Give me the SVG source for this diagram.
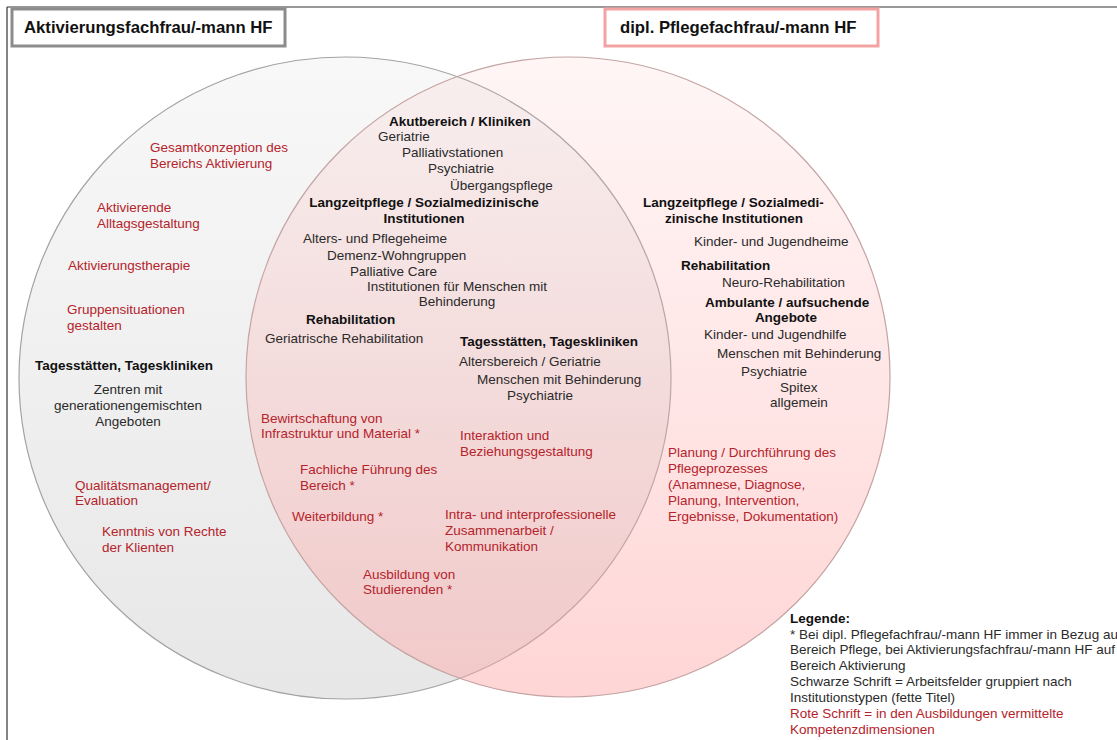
<svg xmlns="http://www.w3.org/2000/svg" width="1117" height="740" viewBox="0 0 1117 740">
  <defs>
    <linearGradient id="gradGray" x1="0" y1="0" x2="0" y2="1">
      <stop offset="0" stop-color="#f8f8f8"/>
      <stop offset="1" stop-color="#e7e7e7"/>
    </linearGradient>
    <linearGradient id="gradPink" x1="0" y1="0" x2="0" y2="1">
      <stop offset="0" stop-color="#ffb0b0" stop-opacity="0.12"/>
      <stop offset="1" stop-color="#ffa4a4" stop-opacity="0.46"/>
    </linearGradient>
    <style>
      text { font-family: "Liberation Sans", Arial, sans-serif; font-size: 13.5px; fill: #2a2a2a; }
      .b { font-weight: bold; fill: #111; }
      .r { fill: #b5232b; }
      .c { text-anchor: middle; }
      .title { font-size: 16.7px; font-weight: bold; fill: #111; }
    </style>
  </defs>

  <rect x="0" y="0" width="1117" height="740" fill="#ffffff"/>

  <!-- page frame -->
  <g id="frame" stroke="#333" stroke-width="1.2" fill="none">
    <line x1="7" y1="7" x2="1117" y2="7"/>
    <line x1="7" y1="7" x2="7" y2="740"/>
  </g>

  <!-- the two overlapping sets -->
  <g id="set-aktivierung">
    <ellipse cx="345" cy="378" rx="326" ry="321" fill="url(#gradGray)" stroke="#a3a3a3" stroke-width="1.2"/>
  </g>
  <g id="set-pflege">
    <ellipse cx="568" cy="377" rx="322" ry="320" fill="url(#gradPink)" stroke="#c4a3a3" stroke-width="1.2"/>
  </g>

  <!-- headings -->
  <g id="title-aktivierung">
    <rect x="12" y="9" width="273" height="37" fill="#fff" stroke="#8c8c8c" stroke-width="3"/>
    <text class="title" x="24" y="33">Aktivierungsfachfrau/-mann HF</text>
  </g>
  <g id="title-pflege">
    <rect x="605" y="9" width="273" height="37" fill="#fff" stroke="#f4a3a3" stroke-width="3"/>
    <text class="title" x="620" y="33">dipl. Pflegefachfrau/-mann HF</text>
  </g>

  <!-- left-only area -->
  <g id="left-only">
    <text class="r" x="150" y="152">Gesamtkonzeption des</text>
    <text class="r" x="150" y="168">Bereichs Aktivierung</text>
    <text class="r" x="97" y="212">Aktivierende</text>
    <text class="r" x="97" y="228">Alltagsgestaltung</text>
    <text class="r" x="68" y="270">Aktivierungstherapie</text>
    <text class="r" x="67" y="314">Gruppensituationen</text>
    <text class="r" x="67" y="330">gestalten</text>
    <text class="b" x="35" y="370">Tagesstätten, Tageskliniken</text>
    <text class="c" x="128" y="394">Zentren mit</text>
    <text class="c" x="128" y="410">generationengemischten</text>
    <text class="c" x="128" y="426">Angeboten</text>
    <text class="r" x="75" y="490">Qualitätsmanagement/</text>
    <text class="r" x="75" y="505">Evaluation</text>
    <text class="r" x="102" y="536">Kenntnis von Rechte</text>
    <text class="r" x="102" y="552">der Klienten</text>
  </g>

  <!-- shared area -->
  <g id="intersection">
    <text class="b" x="389" y="126">Akutbereich / Kliniken</text>
    <text x="378" y="141">Geriatrie</text>
    <text x="402" y="157">Palliativstationen</text>
    <text x="428" y="173">Psychiatrie</text>
    <text x="450" y="190">Übergangspflege</text>
    <text class="b c" x="424" y="207">Langzeitpflege / Sozialmedizinische</text>
    <text class="b c" x="424" y="223">Institutionen</text>
    <text x="303" y="243">Alters- und Pflegeheime</text>
    <text x="327" y="260">Demenz-Wohngruppen</text>
    <text x="350" y="276">Palliative Care</text>
    <text x="367" y="291">Institutionen für Menschen mit</text>
    <text class="c" x="457" y="306">Behinderung</text>
    <text class="b" x="306" y="324">Rehabilitation</text>
    <text x="265" y="343">Geriatrische Rehabilitation</text>
    <text class="b" x="460" y="346">Tagesstätten, Tageskliniken</text>
    <text x="459" y="366">Altersbereich / Geriatrie</text>
    <text x="477" y="384">Menschen mit Behinderung</text>
    <text x="507" y="400">Psychiatrie</text>
    <text class="r" x="261" y="423">Bewirtschaftung von</text>
    <text class="r" x="261" y="438">Infrastruktur und Material *</text>
    <text class="r" x="460" y="440">Interaktion und</text>
    <text class="r" x="460" y="456">Beziehungsgestaltung</text>
    <text class="r" x="300" y="474">Fachliche Führung des</text>
    <text class="r" x="300" y="490">Bereich *</text>
    <text class="r" x="292" y="521">Weiterbildung *</text>
    <text class="r" x="445" y="519">Intra- und interprofessionelle</text>
    <text class="r" x="445" y="535">Zusammenarbeit /</text>
    <text class="r" x="445" y="551">Kommunikation</text>
    <text class="r" x="363" y="579">Ausbildung von</text>
    <text class="r" x="363" y="594">Studierenden *</text>
  </g>

  <!-- right-only area -->
  <g id="right-only">
    <text class="b" x="643" y="207">Langzeitpflege / Sozialmedi-</text>
    <text class="b" x="665" y="223">zinische Institutionen</text>
    <text x="694" y="246">Kinder- und Jugendheime</text>
    <text class="b" x="681" y="270">Rehabilitation</text>
    <text x="722" y="287">Neuro-Rehabilitation</text>
    <text class="b" x="705" y="307">Ambulante / aufsuchende</text>
    <text class="b c" x="786" y="322">Angebote</text>
    <text x="704" y="339">Kinder- und Jugendhilfe</text>
    <text x="717" y="358">Menschen mit Behinderung</text>
    <text x="741" y="376">Psychiatrie</text>
    <text x="780" y="392">Spitex</text>
    <text x="770" y="407">allgemein</text>
    <text class="r" x="668" y="457">Planung / Durchführung des</text>
    <text class="r" x="668" y="473">Pflegeprozesses</text>
    <text class="r" x="668" y="489">(Anamnese, Diagnose,</text>
    <text class="r" x="668" y="505">Planung, Intervention,</text>
    <text class="r" x="668" y="521">Ergebnisse, Dokumentation)</text>
  </g>

  <!-- key -->
  <g id="legend">
    <text class="b" x="790" y="623">Legende:</text>
    <text x="790" y="639">* Bei dipl. Pflegefachfrau/-mann HF immer in Bezug auf</text>
    <text x="790" y="654">Bereich Pflege, bei Aktivierungsfachfrau/-mann HF auf</text>
    <text x="790" y="670">Bereich Aktivierung</text>
    <text x="790" y="686">Schwarze Schrift = Arbeitsfelder gruppiert nach</text>
    <text x="790" y="702">Institutionstypen (fette Titel)</text>
    <text class="r" x="790" y="718">Rote Schrift = in den Ausbildungen vermittelte</text>
    <text class="r" x="790" y="734">Kompetenzdimensionen</text>
  </g>
</svg>
